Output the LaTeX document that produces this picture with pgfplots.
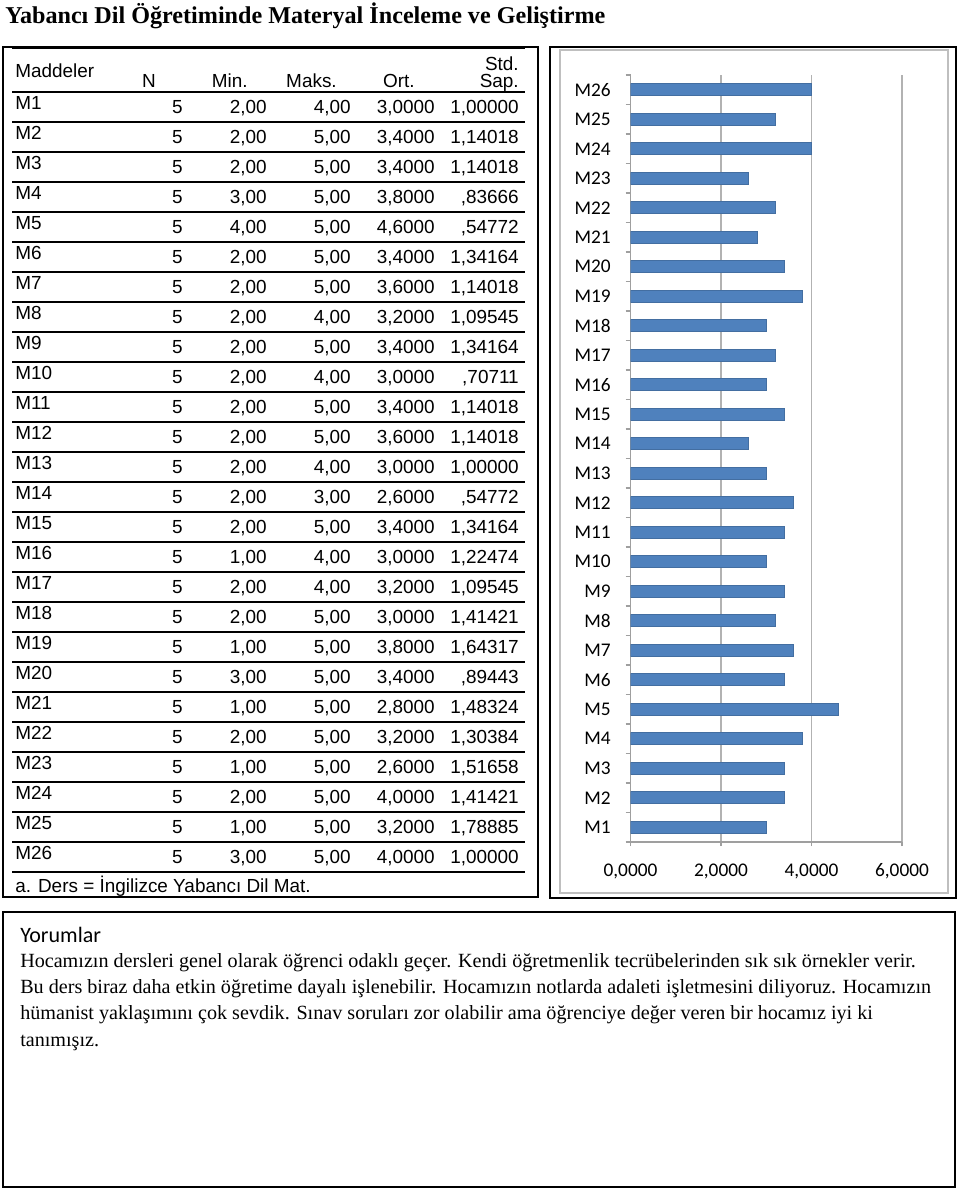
\documentclass[border=0pt]{standalone}
\usepackage{pgfplots}
\pgfplotsset{compat=1.18}
\usepackage{fontspec}
\setmainfont{Liberation Serif}
\newfontfamily\arialf{Liberation Sans}
\newfontfamily\calibrif{Carlito}
\definecolor{barblue}{RGB}{79,129,189}
\newcommand\tabfont{\arialf\fontsize{14.2}{17}\selectfont}
\newcommand\trow[7]{%
  \node[anchor=base west] at (15,{92+30*#1+17.5}) {#2};
  \node[anchor=base east] at (183,{92+30*#1+21}) {#3};
  \node[anchor=base east] at (267,{92+30*#1+21}) {#4};
  \node[anchor=base east] at (351,{92+30*#1+21}) {#5};
  \node[anchor=base east] at (435,{92+30*#1+21}) {#6};
  \node[anchor=base east] at (519,{92+30*#1+21}) {#7};
}
\begin{document}
\begin{tikzpicture}
\begin{scope}[x=0.75pt,y=-0.75pt]
\path (0,0) rectangle (960,1189);
% title
\node[anchor=base west, inner sep=0pt, font=\fontsize{18.1}{22}\selectfont\bfseries] at (5,23) {Yabancı Dil Öğretiminde Materyal İnceleme ve Geliştirme};
% left table box
\draw[line width=1.5pt] (3,47) rectangle (538,897);
\draw[line width=1pt] (12,48) -- (525,48);
\foreach \k in {0,...,26} \draw[line width=1pt] (12,{92+30*\k}) -- (525,{92+30*\k});
\begin{scope}[every node/.style={inner sep=0pt, font=\tabfont}]
\node[anchor=base west] at (15,77) {Maddeler};
\node[anchor=base east] at (156,87.5) {N};
\node[anchor=base east] at (248,87.5) {Min.};
\node[anchor=base east] at (337,87.5) {Maks.};
\node[anchor=base east] at (415,87.5) {Ort.};
\node[anchor=base east] at (519,70) {Std.};
\node[anchor=base east] at (519,87.5) {Sap.};
\trow{0}{M1}{5}{2,00}{4,00}{3,0000}{1,00000}
\trow{1}{M2}{5}{2,00}{5,00}{3,4000}{1,14018}
\trow{2}{M3}{5}{2,00}{5,00}{3,4000}{1,14018}
\trow{3}{M4}{5}{3,00}{5,00}{3,8000}{,83666}
\trow{4}{M5}{5}{4,00}{5,00}{4,6000}{,54772}
\trow{5}{M6}{5}{2,00}{5,00}{3,4000}{1,34164}
\trow{6}{M7}{5}{2,00}{5,00}{3,6000}{1,14018}
\trow{7}{M8}{5}{2,00}{4,00}{3,2000}{1,09545}
\trow{8}{M9}{5}{2,00}{5,00}{3,4000}{1,34164}
\trow{9}{M10}{5}{2,00}{4,00}{3,0000}{,70711}
\trow{10}{M11}{5}{2,00}{5,00}{3,4000}{1,14018}
\trow{11}{M12}{5}{2,00}{5,00}{3,6000}{1,14018}
\trow{12}{M13}{5}{2,00}{4,00}{3,0000}{1,00000}
\trow{13}{M14}{5}{2,00}{3,00}{2,6000}{,54772}
\trow{14}{M15}{5}{2,00}{5,00}{3,4000}{1,34164}
\trow{15}{M16}{5}{1,00}{4,00}{3,0000}{1,22474}
\trow{16}{M17}{5}{2,00}{4,00}{3,2000}{1,09545}
\trow{17}{M18}{5}{2,00}{5,00}{3,0000}{1,41421}
\trow{18}{M19}{5}{1,00}{5,00}{3,8000}{1,64317}
\trow{19}{M20}{5}{3,00}{5,00}{3,4000}{,89443}
\trow{20}{M21}{5}{1,00}{5,00}{2,8000}{1,48324}
\trow{21}{M22}{5}{2,00}{5,00}{3,2000}{1,30384}
\trow{22}{M23}{5}{1,00}{5,00}{2,6000}{1,51658}
\trow{23}{M24}{5}{2,00}{5,00}{4,0000}{1,41421}
\trow{24}{M25}{5}{1,00}{5,00}{3,2000}{1,78885}
\trow{25}{M26}{5}{3,00}{5,00}{4,0000}{1,00000}
\node[anchor=base west] at (15,892) {a. Ders = İngilizce Yabancı Dil Mat.};
\end{scope}
% right chart box
\draw[line width=1.5pt] (550,47) rectangle (956,898);
\draw[gray!50, line width=0.8pt] (560,50) rectangle (948,893);
% comments box
\draw[line width=1.5pt] (3,912) rectangle (955,1187);
\node[anchor=base west, inner sep=0pt, font=\calibrif\fontsize{16.5}{19}\selectfont] at (20,942) {Yorumlar};
\begin{scope}[every node/.style={anchor=base west, inner sep=0pt, font=\fontsize{15.1}{18}\selectfont}]
\node at (20,967) {Hocamızın dersleri genel olarak öğrenci odaklı geçer. Kendi öğretmenlik tecrübelerinden sık sık örnekler verir.};
\node at (20,993) {Bu ders biraz daha etkin öğretime dayalı işlenebilir. Hocamızın notlarda adaleti işletmesini diliyoruz. Hocamızın};
\node at (20,1019) {hümanist yaklaşımını çok sevdik. Sınav soruları zor olabilir ama öğrenciye değer veren bir hocamız iyi ki};
\node at (20,1046) {tanımışız.};
\end{scope}
\end{scope}
\begin{axis}[
  at={(472.875pt,-631.5pt)}, anchor=south west,
  scale only axis, width=203.625pt, height=575.25pt,
  xbar, bar width=9pt,
  xmin=0, xmax=6, ymin=-0.5, ymax=25.5,
  xtick={0,2,4,6},
  xticklabels={{0,0000},{2,0000},{4,0000},{6,0000}},
  ytick={0,...,25},
  yticklabels={M1,M2,M3,M4,M5,M6,M7,M8,M9,M10,M11,M12,M13,M14,M15,M16,M17,M18,M19,M20,M21,M22,M23,M24,M25,M26},
  minor ytick={-0.5,0.5,...,25.5},
  axis x line*=bottom, axis y line*=left,
  axis line style={gray!75, line width=0.8pt, -},
  xmajorgrids, grid style={gray!60, line width=0.8pt},
  tick align=outside,
  major tick length=3pt, minor tick length=3.75pt,
  tick style={gray!75, line width=0.8pt},
  major y tick style={draw=none},
  ticklabel style={font=\calibrif\fontsize{14.5}{17}\selectfont},
  yticklabel style={anchor=east, inner sep=0pt, xshift=-11.6pt},
  xticklabel style={anchor=base, inner sep=0pt, yshift=-22.5pt},
]
\addplot[fill=barblue, draw=barblue!85!black, line width=0.4pt] coordinates {
(3.0,0) (3.4,1) (3.4,2) (3.8,3) (4.6,4) (3.4,5) (3.6,6) (3.2,7) (3.4,8) (3.0,9)
(3.4,10) (3.6,11) (3.0,12) (2.6,13) (3.4,14) (3.0,15) (3.2,16) (3.0,17) (3.8,18) (3.4,19)
(2.8,20) (3.2,21) (2.6,22) (4.0,23) (3.2,24) (4.0,25)};
\end{axis}
\end{tikzpicture}
\end{document}
